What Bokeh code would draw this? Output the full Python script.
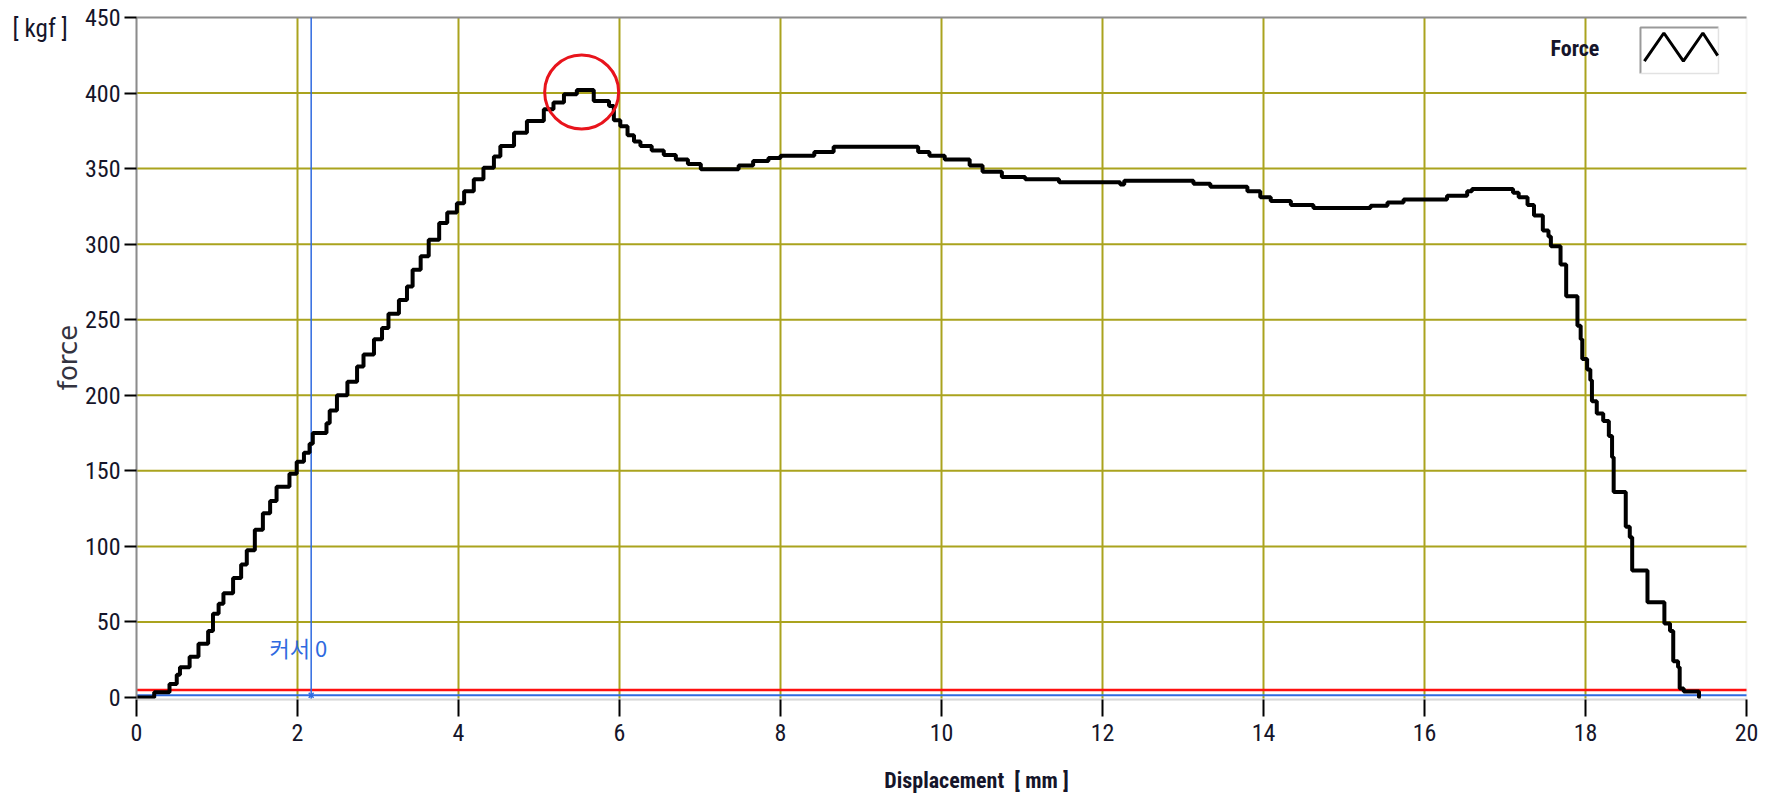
from bokeh.plotting import figure
from bokeh.models import FixedTicker, Label, BoxAnnotation
from bokeh.embed import file_html
from bokeh.resources import INLINE

# ---------------- data ----------------
displacement = [
    0.00, 0.22, 0.41, 0.50, 0.54, 0.66, 0.77, 0.89, 0.95, 1.02, 1.08, 1.20, 1.30,
    1.37, 1.47, 1.57, 1.66, 1.74, 1.90, 1.99, 2.08, 2.15, 2.19, 2.36, 2.40, 2.49,
    2.62, 2.74, 2.82, 2.95, 3.05, 3.13, 3.26, 3.36, 3.43, 3.53, 3.63, 3.76, 3.86,
    3.98, 4.07, 4.19, 4.31, 4.44, 4.52, 4.69, 4.85, 5.06, 5.18, 5.31, 5.47, 5.68,
    5.87, 5.93, 6.01, 6.10, 6.18, 6.26, 6.40, 6.55, 6.70, 6.85, 7.01, 7.48, 7.66,
    7.85, 8.00, 8.42, 8.66, 9.71, 9.85, 10.04, 10.35, 10.51, 10.75, 11.04, 11.46,
    12.22, 12.27, 13.13, 13.34, 13.80, 13.96, 14.09, 14.34, 14.62, 15.33, 15.54,
    15.74, 16.28, 16.53, 16.59, 17.10, 17.17, 17.28, 17.36, 17.47, 17.54, 17.57,
    17.69, 17.76, 17.90, 17.94, 17.96, 18.02, 18.06, 18.08, 18.14, 18.22, 18.29,
    18.33, 18.35, 18.50, 18.55, 18.58, 18.77, 18.98, 19.05, 19.09, 19.15, 19.17,
    19.22, 19.41, 19.43,
]
force = [
    0.0, 3.5, 9.0, 15.0, 20.0, 27.0, 35.5, 44.0, 55.5, 62.0, 69.0, 79.0, 88.0,
    97.5, 111.0, 122.0, 130.0, 139.5, 148.0, 156.0, 162.0, 168.0, 175.0, 181.5, 190.0, 200.0,
    209.0, 219.0, 227.0, 237.0, 244.5, 254.0, 263.0, 272.0, 283.0, 292.0, 303.0, 314.0, 321.0,
    327.0, 335.0, 343.0, 350.5, 358.0, 365.0, 373.8, 381.5, 389.3, 393.7, 399.2, 402.0, 394.8,
    391.4, 382.0, 378.0, 372.0, 368.0, 365.0, 362.0, 359.0, 356.0, 353.0, 349.5, 352.0, 355.0,
    357.0, 358.5, 361.0, 364.5, 361.0, 358.5, 356.0, 352.0, 348.0, 344.5, 343.0, 341.0,
    339.5, 342.0, 340.0, 338.0, 335.0, 331.0, 328.5, 326.0, 324.0, 325.5, 327.5,
    329.6, 332.0, 335.0, 336.5, 334.0, 331.0, 326.0, 319.0, 309.0, 305.0, 298.6,
    286.5, 265.5, 246.0, 237.0, 224.0, 217.0, 210.0, 196.0, 188.0, 183.0, 173.0,
    159.0, 136.0, 113.0, 106.0, 84.0, 63.0, 49.0, 44.0, 24.0, 20.0, 6.0,
    4.0, 0.0, 0.0,
]
x_ticks = [0, 2, 4, 6, 8, 10, 12, 14, 16, 18, 20]
y_ticks = [0, 50, 100, 150, 200, 250, 300, 350, 400, 450]
x_grid = [2, 4, 6, 8, 10, 12, 14, 16, 18]
y_grid = [50, 100, 150, 200, 250, 300, 350, 400]
cursor_x = 2.17
cursor_y = 1.5
threshold = 5.0
peak_x = 5.53
peak_y = 400.7

# ---------------- plot area / styles ----------------
X_MIN, X_MAX = 0.0, 20.0
Y_MIN, Y_MAX = -1.5, 450.0
FONT = "Roboto Condensed"
TXT = "#15152a"
GRID = "#aaa31e"
CURSOR = "#2f6ae0"

# the frame spans the whole canvas; axes are pinned at the plot-area edges
p = figure(width=1771, height=797, x_range=(-1.6894, 20.3106), y_range=(-66.18, 461.25),
           output_backend="svg", toolbar_location=None, title=None,
           min_border_left=0, min_border_right=0, min_border_top=0, min_border_bottom=0,
           background_fill_color="white", border_fill_color="white")
p.outline_line_color = None
p.grid.visible = False

p.xaxis.fixed_location = Y_MIN
p.yaxis.fixed_location = X_MIN
p.xaxis.bounds = (X_MIN, X_MAX)
p.yaxis.bounds = (Y_MIN, Y_MAX)
p.xaxis.ticker = FixedTicker(ticks=x_ticks)
p.yaxis.ticker = FixedTicker(ticks=y_ticks)
for ax in (p.xaxis[0], p.yaxis[0]):
    ax.major_label_text_font = FONT
    ax.major_label_text_font_size = "24px"
    ax.major_label_text_color = TXT
    ax.major_tick_line_color = "black"
    ax.major_tick_line_width = 2
    ax.major_tick_in = 0
    ax.minor_tick_line_color = None
p.xaxis.major_tick_out = 17
p.xaxis.major_label_standoff = 7
p.xaxis.axis_line_color = "#d9d9d9"
p.xaxis.axis_line_width = 2
p.yaxis.major_tick_out = 12
p.yaxis.major_label_standoff = 4
p.yaxis.axis_line_color = "#8c8c8c"
p.yaxis.axis_line_width = 2

# plot-area border
p.add_layout(BoxAnnotation(left=X_MIN, right=X_MAX, bottom=Y_MIN, top=Y_MAX,
                           fill_alpha=0, line_color="#d9d9d9", line_width=2,
                           level="underlay"))

# grid lines
p.segment(x0=x_grid, y0=[Y_MIN] * len(x_grid), x1=x_grid, y1=[Y_MAX] * len(x_grid),
          line_color=GRID, line_width=2)
p.segment(x0=[X_MIN] * len(y_grid), y0=y_grid, x1=[X_MAX] * len(y_grid), y1=y_grid,
          line_color=GRID, line_width=2)
# dark top border
p.segment(x0=[X_MIN], y0=[Y_MAX], x1=[X_MAX], y1=[Y_MAX], line_color="#8c8c8c", line_width=2)

# threshold and cursor lines
p.segment(x0=[X_MIN], y0=[threshold], x1=[X_MAX], y1=[threshold], line_color="#ff1010", line_width=2.5)
p.segment(x0=[X_MIN], y0=[cursor_y], x1=[X_MAX], y1=[cursor_y], line_color=CURSOR, line_width=2)
p.segment(x0=[cursor_x], y0=[Y_MIN], x1=[cursor_x], y1=[Y_MAX], line_color=CURSOR, line_width=1.5)

# force curve
p.step(displacement, force, mode="after", line_color="black", line_width=4)

# cursor marker and label
p.scatter([cursor_x], [cursor_y], marker="x", size=7, line_color=CURSOR, line_width=1.5)
p.add_layout(Label(x=cursor_x - 0.518, y=33.1, text="커서 0", text_font="Noto Sans CJK KR",
                   text_font_size="22px", text_color=CURSOR, text_baseline="middle",
                   text_align="left"))

# peak marker circle
p.scatter([peak_x], [peak_y], marker="circle", size=74, fill_color=None,
          line_color="#e8141c", line_width=3)

# legend: "Force" with zigzag icon box
lx0, lx1, ly0, ly1 = 18.683, 19.652, 412.9, 443.4
p.add_layout(Label(x=17.565, y=429.5, text="Force", text_font=FONT, text_font_style="bold",
                   text_font_size="22px", text_color=TXT, text_baseline="middle",
                   text_align="left"))
p.line([lx0, lx0, lx1], [ly0, ly1, ly1], line_color="#9a9a9a", line_width=2)
p.line([lx0, lx1, lx1], [ly0, ly0, ly1], line_color="#e2e2e2", line_width=1.5)
fx = [0.05, 0.30, 0.55, 0.80, 0.99]
fy = [0.27, 0.88, 0.27, 0.88, 0.39]
p.line([lx0 + f * (lx1 - lx0) for f in fx], [ly0 + f * (ly1 - ly0) for f in fy],
       line_color="black", line_width=3)

# axis titles
p.add_layout(Label(x=-1.540, y=442.7, text="[ kgf ]", text_font=FONT,
                   text_font_size="25px", text_color=TXT, text_baseline="middle",
                   text_align="left"))
p.add_layout(Label(x=-0.845, y=225.0, text="force", text_font="DejaVu Sans",
                   text_font_size="26px", text_color="#333340", text_baseline="middle",
                   text_align="center", angle=1.5708))
p.add_layout(Label(x=10.435, y=-54.9, text="Displacement\u00a0 [ mm ]", text_font=FONT,
                   text_font_style="bold", text_font_size="22px", text_color=TXT,
                   text_baseline="middle", text_align="center"))

open("out.html", "w").write(file_html(p, INLINE))
